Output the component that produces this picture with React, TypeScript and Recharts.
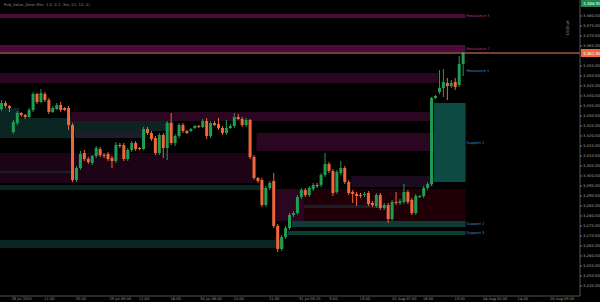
import React from 'react';
import { ComposedChart, Bar, XAxis, YAxis, ReferenceArea, ReferenceLine } from 'recharts';

// OHLC per candle
const opens = [
  3333.5, 3336.5, 3335, 3322, 3326.5, 3331.5, 3330.5, 3329.5, 3333, 3341, 3337, 3341, 3338, 3332, 3333.5, 3335.5, 3334, 3334, 3325.5, 3298,
  3304, 3311.5, 3308.5, 3306.5, 3310, 3313.5, 3310.5, 3311, 3309, 3307.5, 3315.5, 3315.5, 3308.5, 3313, 3316.5, 3314, 3313.5, 3323.5, 3321.5, 3319,
  3311.5, 3320.5, 3314, 3326.5, 3316.5, 3320, 3325.5, 3322.5, 3322.5, 3324, 3325, 3324.5, 3327.5, 3320, 3326.5, 3326, 3324, 3321.5, 3324, 3325,
  3329.5, 3328.5, 3325.5, 3328, 3309.5, 3299, 3298, 3285.5, 3294, 3297.5, 3275, 3263.5, 3269.5, 3274, 3280.5, 3281.5, 3289.5, 3293, 3290.5, 3293.5,
  3295.5, 3295.5, 3300.5, 3306, 3302.5, 3292, 3301.5, 3304, 3297, 3292, 3291, 3290.5, 3290.5, 3291.5, 3286.5, 3285, 3290.5, 3284, 3285.5, 3278.5,
  3287, 3286.5, 3287, 3292, 3288, 3281.5, 3289.5, 3290, 3294, 3296, 3339, 3342, 3344, 3346.5, 3345, 3347, 3345.5, 3356,
];
const highs = [
  3338, 3337.5, 3335.5, 3328, 3332.5, 3332, 3331, 3334, 3342, 3341.5, 3343.5, 3342, 3339, 3335, 3336.5, 3337, 3334.5, 3335, 3326.5, 3305,
  3312.5, 3313, 3309.5, 3310.5, 3315, 3314.5, 3311.5, 3312, 3310, 3317, 3316.5, 3316.5, 3314, 3317.5, 3317.5, 3314.5, 3324.5, 3324.5, 3322.5, 3320,
  3321.5, 3321.5, 3327.5, 3331.5, 3321, 3326.5, 3326.5, 3323, 3324, 3325.5, 3325.5, 3328.5, 3329, 3327.5, 3327.5, 3329, 3325, 3328, 3326, 3331.5,
  3331, 3329.5, 3329, 3328.5, 3310.5, 3299.5, 3299, 3295, 3297.5, 3301.5, 3276, 3270.5, 3275, 3281.5, 3282.5, 3290.5, 3294, 3294, 3295, 3296.5,
  3296.5, 3301.5, 3311.5, 3307, 3303.5, 3303, 3307.5, 3305, 3298, 3293, 3292, 3291.5, 3292, 3292.5, 3287.5, 3291.5, 3291.5, 3286.5, 3286.5, 3288,
  3292, 3288.5, 3296, 3293, 3289, 3291, 3290.5, 3295, 3297, 3339.5, 3340.5, 3353, 3353.5, 3349, 3348, 3349, 3360, 3362,
];
const lows = [
  3332.5, 3334, 3332, 3321, 3325.5, 3329.5, 3328.5, 3329, 3332, 3336, 3336.5, 3337, 3331, 3331.5, 3333, 3332, 3332.5, 3323, 3297, 3297,
  3303, 3307.5, 3306, 3305.5, 3309, 3309.5, 3309, 3307.5, 3304, 3306.5, 3314, 3307.5, 3307.5, 3312, 3312.5, 3313, 3313, 3320.5, 3317.5, 3310.5,
  3310.5, 3309, 3308, 3315.5, 3315, 3319, 3321.5, 3321, 3322, 3323.5, 3324, 3324, 3318.5, 3319, 3325, 3323, 3320.5, 3320.5, 3323.5, 3324,
  3328, 3324.5, 3324.5, 3308.5, 3298, 3296.5, 3284.5, 3284.5, 3293, 3274, 3262, 3262.5, 3268.5, 3273, 3279.5, 3280.5, 3288.5, 3289.5, 3289.5, 3292.5,
  3294, 3294.5, 3299.5, 3301.5, 3290, 3291, 3300.5, 3296, 3290.5, 3286.5, 3285, 3289, 3289.5, 3285, 3284.5, 3284, 3283, 3283, 3276.5, 3277.5,
  3285.5, 3285.5, 3286, 3286, 3280.5, 3280.5, 3289, 3289, 3293, 3295, 3338.5, 3341, 3339.5, 3338, 3344, 3343, 3344.5, 3350,
];
const closes = [
  3336.5, 3335, 3334, 3327, 3331.5, 3330.5, 3329.5, 3333, 3341, 3337, 3341.5, 3338, 3332, 3334, 3335.5, 3333, 3333, 3325.5, 3298, 3304,
  3311, 3308.5, 3307, 3310, 3314, 3310.5, 3310, 3308.5, 3307.5, 3315.5, 3315, 3308.5, 3313, 3316.5, 3313.5, 3313.5, 3323.5, 3321.5, 3318.5, 3311.5,
  3320.5, 3314, 3326.5, 3316.5, 3320, 3325.5, 3322.5, 3321.5, 3323.5, 3325, 3324.5, 3327.5, 3320, 3326.5, 3325.5, 3324, 3321.5, 3324, 3325, 3329.5,
  3328.5, 3325.5, 3328, 3309.5, 3299, 3297.5, 3285.5, 3294, 3296.5, 3275, 3263.5, 3269.5, 3274, 3280.5, 3281.5, 3289.5, 3293, 3290.5, 3294, 3295.5,
  3295, 3300.5, 3306, 3302.5, 3291.5, 3302, 3304, 3297, 3291.5, 3291, 3290, 3290, 3291, 3286, 3285.5, 3290.5, 3284, 3285.5, 3278.5, 3287,
  3286.5, 3287.5, 3292, 3287, 3281.5, 3290, 3290, 3294, 3296, 3339, 3340, 3344, 3347, 3345, 3346.5, 3344.5, 3356, 3361.5,
];

// empty slots on the right (future time)
const futureSlots = 29;

const xTickSlots = [5, 12, 20, 30, 36, 44, 53, 60, 69, 78, 84, 92, 102, 108, 116, 125, 132, 142];
const xTickLabels = [
  '28 Jul 2025', '11:00', '20:00', '29 Jul 09:00', '12:00', '16:00', '30 Jul 08:00', '15:00', '21:00',
  '31 Jul 09:25', '3:00', '13:00', '01 Aug 07:00', '16:00', '13:00', '04 Aug 05:00', '14:00', '05 Aug 09:00',
];

// 3360 and 3385 sit under the price tags, so they are left out
const priceTicks = [
  3245, 3250, 3255, 3260, 3265, 3270, 3275, 3280, 3285, 3290, 3295, 3300, 3305, 3310, 3315,
  3320, 3325, 3330, 3335, 3340, 3345, 3350, 3355, 3365, 3370, 3375, 3380,
];

const sessionHigh = 3386.5;

// value zones: slot range, price range, zone type
const zones = [
  { from: 0, to: 117, top: 3381, bottom: 3379, kind: 'resStrong', label: 'Resistance 3' },
  { from: 0, to: 117, top: 3365.5, bottom: 3362, kind: 'resStrong', label: 'Resistance 2' },
  { from: 0, to: 110, top: 3351.5, bottom: 3346.5, kind: 'res' },
  { from: 0, to: 4, top: 3334, bottom: 3329, kind: 'supFaint' },
  { from: 0, to: 17, top: 3329, bottom: 3319, kind: 'supFaint' },
  { from: 18, to: 108, top: 3332, bottom: 3327.5, kind: 'res' },
  { from: 18, to: 43, top: 3327.5, bottom: 3322.5, kind: 'teal' },
  { from: 19, to: 36, top: 3322.5, bottom: 3319, kind: 'neutral' },
  { from: 0, to: 63, top: 3311.5, bottom: 3296.5, kind: 'resFaint' },
  { from: 0, to: 18, top: 3302.5, bottom: 3301.5, kind: 'neutral' },
  { from: 0, to: 66, top: 3295.5, bottom: 3293, kind: 'supFaint' },
  { from: 65, to: 109, top: 3321.5, bottom: 3312.5, kind: 'res' },
  { from: 70, to: 117, top: 3293.5, bottom: 3277.5, kind: 'red' },
  { from: 70, to: 76, top: 3293.5, bottom: 3277.5, kind: 'res' },
  { from: 77, to: 96, top: 3285.5, bottom: 3284, kind: 'neutral' },
  { from: 89, to: 109, top: 3300, bottom: 3294.5, kind: 'purple' },
  { from: 74, to: 117, top: 3277.5, bottom: 3274.5, kind: 'supMid', label: 'Support 2' },
  { from: 73, to: 117, top: 3272.5, bottom: 3270.5, kind: 'supMid', label: 'Support 3' },
  { from: 0, to: 71, top: 3268, bottom: 3264, kind: 'supFaint' },
  { from: 110, to: 117, top: 3336.5, bottom: 3297, kind: 'sup', label: 'Support 1' },
  { from: 117, to: 117, top: 3353, bottom: 3352, kind: 'none', label: 'Resistance 1' },
];

const zoneFill: Record<string, string> = {
  resStrong: '#4c0a3c',
  res: '#2a0620',
  resFaint: '#1c0416',
  red: '#200008',
  purple: '#1c0a1e',
  sup: '#0d4a44',
  supMid: '#0c3c35',
  supFaint: '#092622',
  teal: '#0d2321',
  neutral: '#1c1d28',
  none: 'transparent',
};
const zoneLabelColor: Record<string, string> = {
  resStrong: '#b8309a',
  none: '#3d8fd6',
  sup: '#3d8fd6',
  supMid: '#3d8fd6',
};

const GREEN = '#1f9d55';
const RED = '#f0673a';

const rows = [
  ...opens.map((o, i) => ({ i, o, h: highs[i], l: lows[i], c: closes[i], range: [lows[i], highs[i]] })),
  ...Array.from({ length: futureSlots }, (_, k) => ({ i: opens.length + k })),
];

const tickText = new Map(xTickSlots.map((s, k) => [s, xTickLabels[k]]));

const fmt = (v: number) =>
  v.toLocaleString('en-US', { minimumFractionDigits: 2, maximumFractionDigits: 2 });

const Candle = (props: any) => {
  const { x, y, width, height, payload } = props;
  if (!payload || payload.h == null) return null;
  const { o, h, l, c } = payload;
  const hgt = Math.abs(height);
  const top = height < 0 ? y + height : y;
  const k = h === l ? 0 : hgt / (h - l);
  const color = c >= o ? GREEN : RED;
  const bodyTop = top + (h - Math.max(o, c)) * k;
  const bodyH = Math.max(1, Math.abs(o - c) * k);
  const cx = x + width / 2;
  return (
    <g>
      <line x1={cx} x2={cx} y1={top} y2={top + hgt} stroke={color} strokeWidth={1} />
      <rect x={x} y={bodyTop} width={width} height={bodyH} fill={color} />
    </g>
  );
};

const tag = (value: number, fill: string) => (p: any) => {
  const vb = p.viewBox;
  if (!vb) return null;
  const x = vb.x + vb.width;
  const y = vb.y;
  return (
    <g>
      <rect x={x + 1} y={y - 4} width={19} height={8} fill={fill} />
      <text x={x + 3} y={y + 1.5} fontSize={4} fill="#fff" fontFamily="DejaVu Sans">
        {fmt(value)}
      </text>
    </g>
  );
};

export default function App() {
  const last = closes[closes.length - 1];
  return (
    <div style={{ position: 'relative', width: 600, height: 302, background: '#000' }}>
      <style>{'body{margin:0;background:#000}'}</style>
      <ComposedChart width={600} height={302} data={rows} margin={{ top: 0, right: 0, left: 0, bottom: 0 }}>
        <XAxis
          dataKey="i"
          type="category"
          ticks={xTickSlots}
          interval={0}
          tickFormatter={(v) => tickText.get(v) ?? ''}
          tick={{ fontSize: 3.6, fill: '#9a9a9a', fontFamily: 'DejaVu Sans' }}
          tickLine={false}
          tickSize={1}
          tickMargin={0}
          axisLine={{ stroke: '#555' }}
          height={6}
        />
        <YAxis
          orientation="right"
          type="number"
          domain={[3240, 3388]}
          ticks={priceTicks}
          interval={0}
          allowDataOverflow
          tickFormatter={fmt}
          tick={{ fontSize: 3.8, fill: '#a0a0a0', fontFamily: 'DejaVu Sans' }}
          tickSize={2}
          tickMargin={1}
          tickLine={{ stroke: '#777' }}
          axisLine={{ stroke: '#555' }}
          width={20}
        />
        {zones.map((z, k) => (
          <ReferenceArea
            key={k}
            x1={z.from}
            x2={z.to}
            y1={z.bottom}
            y2={z.top}
            fill={zoneFill[z.kind]}
            fillOpacity={1}
            stroke="none"
            ifOverflow="visible"
            label={
              z.label
                ? {
                    value: z.label,
                    position: 'right',
                    offset: 1,
                    fontSize: 3.6,
                    fill: zoneLabelColor[z.kind],
                    fontFamily: 'DejaVu Sans',
                  }
                : undefined
            }
          />
        ))}
        <Bar dataKey="range" barSize={3} shape={Candle} isAnimationActive={false} />
        <ReferenceLine y={last} stroke="#e8825f" strokeWidth={1} label={tag(last, RED)} />
        <ReferenceLine y={sessionHigh} stroke="none" label={tag(sessionHigh, '#1c8a4c')} />
      </ComposedChart>
      <svg width={600} height={302} style={{ position: 'absolute', left: 0, top: 0, pointerEvents: 'none' }}>
        <text x={4} y={6} fontSize={3.8} fill="#8a8a8a" fontFamily="DejaVu Sans">
          Pub_Value_Zone (Fer, 1.0, 0.1, Yes, 51, 12, 2)
        </text>
        <text
          x={569}
          y={28}
          fontSize={3.8}
          fill="#8a8a8a"
          fontFamily="DejaVu Sans"
          textAnchor="middle"
          transform="rotate(-90 569 28)"
        >
          1000 pt
        </text>
      </svg>
    </div>
  );
}
